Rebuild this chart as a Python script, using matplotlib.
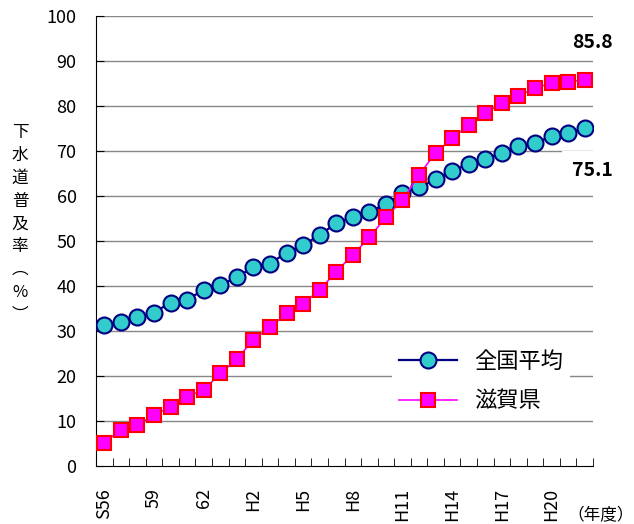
import numpy as np
import matplotlib.pyplot as plt
from matplotlib.ticker import FixedLocator

plt.rcParams['font.family'] = ['Noto Sans CJK JP', 'DejaVu Sans']

# fiscal years S56 .. H22
years = ['S56', 'S57', 'S58', '59', 'S60', 'S61', '62', 'S63', 'H1', 'H2',
         'H3', 'H4', 'H5', 'H6', 'H7', 'H8', 'H9', 'H10', 'H11', 'H12',
         'H13', 'H14', 'H15', 'H16', 'H17', 'H18', 'H19', 'H20', 'H21', 'H22']
shown = ['S56', '59', '62', 'H2', 'H5', 'H8', 'H11', 'H14', 'H17', 'H20']

national = [31.3, 32.1, 33.2, 34.1, 36.3, 37.0, 39.1, 40.2, 41.9, 44.3,
            45.0, 47.4, 49.1, 51.3, 54.0, 55.3, 56.4, 58.2, 60.6, 61.9,
            63.7, 65.6, 67.1, 68.2, 69.6, 71.0, 71.7, 73.3, 73.9, 75.1]
shiga = [5.2, 8.1, 9.1, 11.3, 13.2, 15.4, 16.9, 20.6, 23.7, 28.1,
         30.8, 33.9, 36.1, 39.1, 43.2, 46.9, 50.8, 55.3, 59.1, 64.7,
         69.6, 72.8, 75.8, 78.4, 80.6, 82.3, 83.9, 85.2, 85.4, 85.8]

x = np.arange(len(years))

fig = plt.figure(figsize=(6.34, 5.24), dpi=100)
ax = fig.add_axes([96/634, 58/524, 497/634, 450/524])

ax.plot(x, national, color='#000080', lw=1.6, marker='o', ms=11.5,
        mfc='#33CCCC', mec='#000080', mew=1.5, label='全国平均', zorder=3)
ax.plot(x, shiga, color='#FF00FF', lw=1.2, marker='s', ms=10,
        mfc='#FF00FF', mec='#FF0000', mew=1.5, label='滋賀県', zorder=4)

ax.set_xlim(-0.5, len(years) - 0.5)
ax.set_ylim(0, 100)
ax.set_yticks(range(0, 101, 10))
ax.tick_params(axis='y', direction='in', length=6, labelsize=13, pad=14)
for v in range(10, 101, 10):
    ax.axhline(v, color='#888888', lw=1, zorder=1)

pos = [years.index(s) for s in shown]
ax.set_xticks(pos)
ax.set_xticklabels(shown, rotation=90, va='top', ha='center')
ax.tick_params(axis='x', which='major', length=0, labelsize=13, pad=16)
ax.xaxis.set_minor_locator(FixedLocator(np.arange(-0.5, len(years), 1)))
ax.tick_params(axis='x', which='minor', direction='in', length=6)

ax.spines['top'].set_visible(False)
ax.spines['right'].set_visible(False)

fig.text(592/634, 1 - 43/524, '85.8', fontsize=14, fontweight='bold',
         ha='center', va='center')
fig.text(592/634, 1 - 170/524, '75.1', fontsize=14, fontweight='bold',
         ha='center', va='center',
         bbox=dict(facecolor='white', edgecolor='none', pad=7))

fig.text(20/634, 1 - 224/524, '\n'.join('下水道普及率︵%︶'), fontsize=12,
         ha='center', va='center', linespacing=1.45)
fig.text(634/634, 1 - 516/524, '（年度）', fontsize=12, ha='right', va='center')

leg = ax.legend(loc='center', bbox_to_anchor=(481/634, 1 - 381/524),
                bbox_transform=fig.transFigure, fontsize=16, frameon=True,
                facecolor='white', edgecolor='none', framealpha=1,
                handlelength=2.6, labelspacing=0.75, borderpad=0.3,
                fancybox=False)

fig.savefig('out.png', dpi=100)
